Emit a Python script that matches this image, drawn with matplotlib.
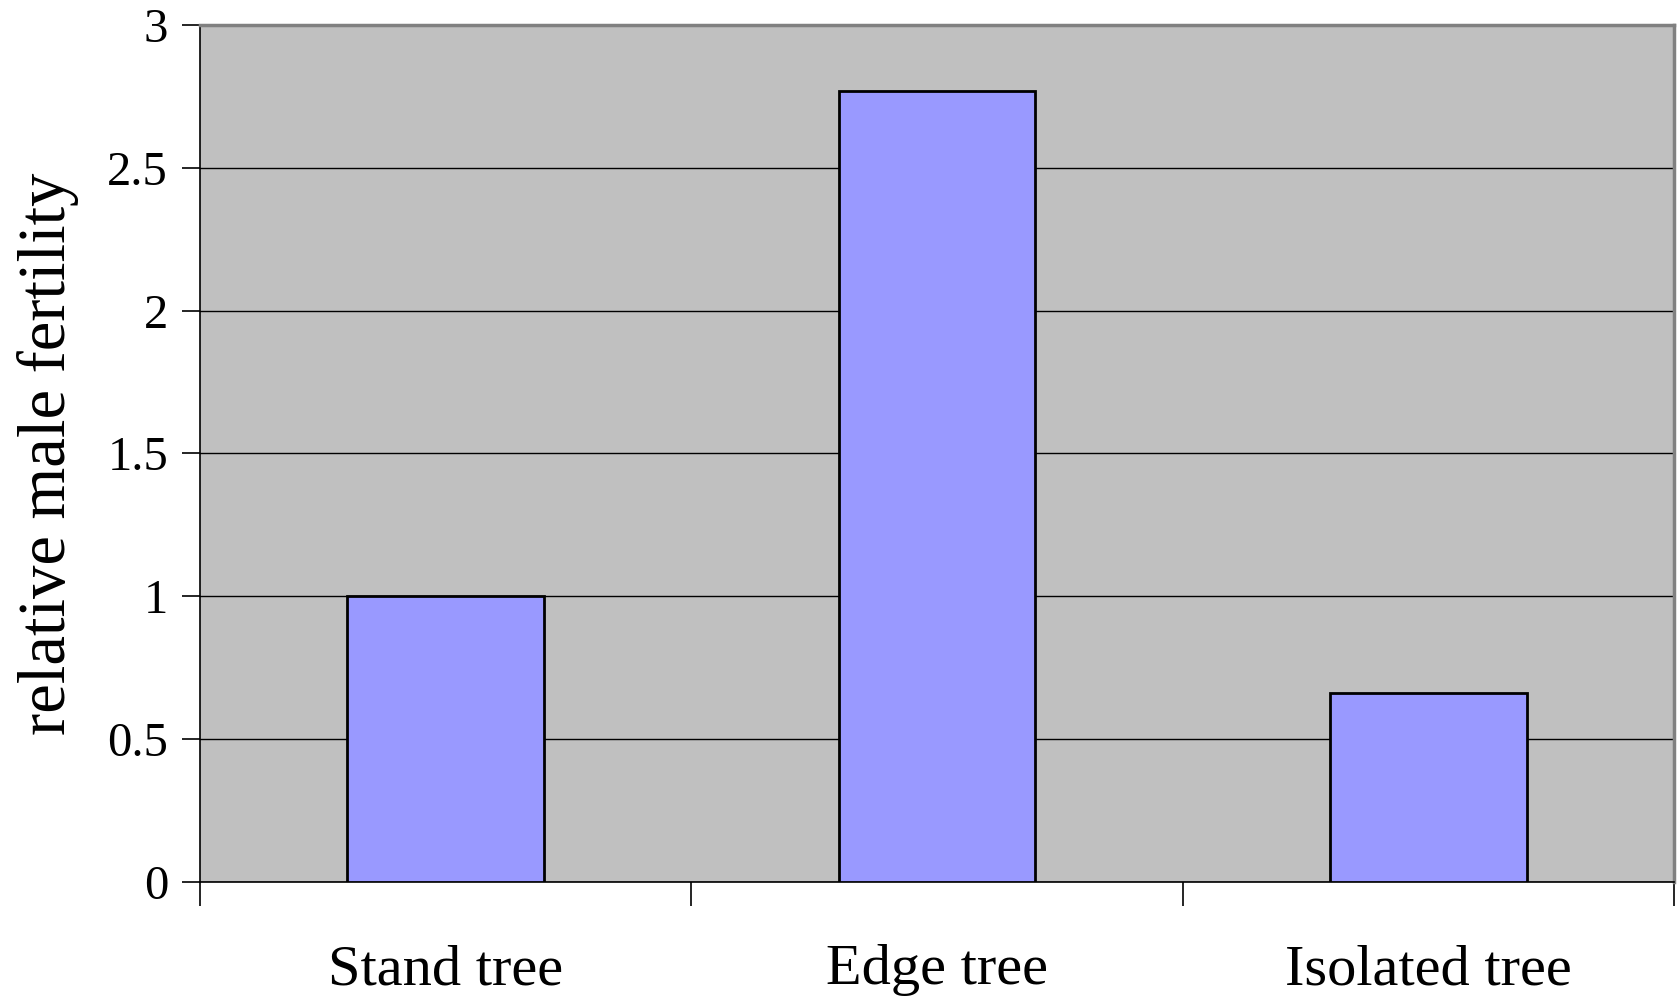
import matplotlib
matplotlib.use("Agg")
import matplotlib.pyplot as plt
from matplotlib.ticker import FixedLocator, NullFormatter

categories = ["Stand tree", "Edge tree", "Isolated tree"]
fertility = [1.0, 2.77, 0.66]
y_ticks = [0, 0.5, 1, 1.5, 2, 2.5, 3]
y_tick_labels = ["0", "0.5", "1", "1.5", "2", "2.5", "3"]

plt.rcParams["font.family"] = ["Liberation Serif", "DejaVu Serif"]

W, H = 1679, 997
fig = plt.figure(figsize=(W / 100, H / 100), dpi=100)
ax = fig.add_axes([200 / W, 1 - 882 / H, 1474 / W, (882 - 25) / H])
ax.set_facecolor("#C0C0C0")

x = list(range(len(categories)))
ax.bar(x, fertility, width=0.4, color="#9999FF", edgecolor="black",
       linewidth=2.0, zorder=3)

ax.set_xlim(-0.5, len(categories) - 0.5)
ax.set_ylim(0, 3)

ax.set_yticks(y_ticks)
ax.set_yticklabels(y_tick_labels, fontsize=35)
ax.yaxis.grid(True, color="black", linewidth=1.0, zorder=1)
ax.set_axisbelow(True)

# category boundary ticks below the axis, labels centred under bars
ax.xaxis.set_major_locator(FixedLocator([i - 0.5 for i in range(len(categories) + 1)]))
ax.xaxis.set_major_formatter(NullFormatter())
ax.tick_params(axis="x", which="major", length=17, width=1.2, color="black")
ax.xaxis.set_minor_locator(FixedLocator(x))
ax.set_xticklabels(categories, minor=True, fontsize=42)
ax.tick_params(axis="x", which="minor", length=0, pad=45)

ax.tick_params(axis="y", length=13, width=1.2, color="black", pad=10)

ax.set_ylabel("relative male fertility", fontsize=48, labelpad=20)

for side in ("top", "right"):
    ax.spines[side].set_color("#808080")
    ax.spines[side].set_linewidth(2.5)
for side in ("left", "bottom"):
    ax.spines[side].set_color("black")
    ax.spines[side].set_linewidth(1.2)

fig.savefig("out.png", dpi=100)
